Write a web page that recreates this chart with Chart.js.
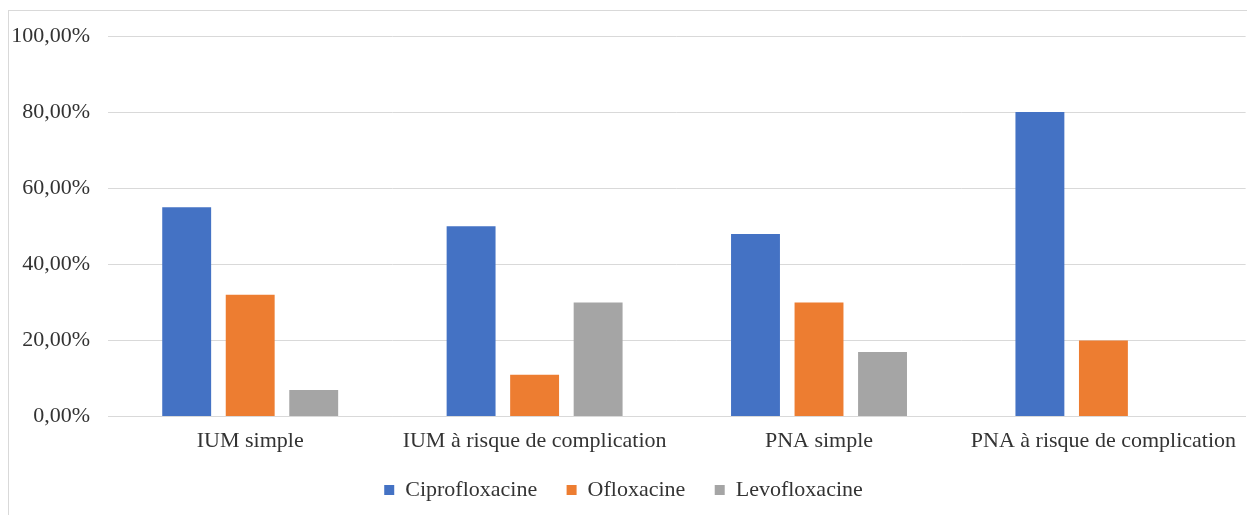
<!DOCTYPE html>
<html>
<head>
<meta charset="utf-8">
<script src="https://cdn.jsdelivr.net/npm/chart.js@4"></script>
<style>
  html, body { margin: 0; padding: 0; background: #fff; }
  #wrap { width: 1247px; height: 515px; position: relative; }
</style>
</head>
<body>
<div id="wrap"><canvas id="chart" width="1247" height="515"></canvas></div>
<script>
const categories = ['IUM simple', 'IUM à risque de complication', 'PNA simple', 'PNA à risque de complication'];
const seriesNames = ['Ciprofloxacine', 'Ofloxacine', 'Levofloxacine'];
const cipro = [55, 50, 48, 80];
const oflox = [32, 11, 30, 20];
const levo = [7, 30, 17, 0];
const yTicks = [0, 20, 40, 60, 80, 100];

const colors = ['#4472C4', '#ED7D31', '#A5A5A5'];
const serif = '"Liberation Serif", "Times New Roman", serif';

// light frame round the picture
const framePlugin = {
  id: 'frame',
  beforeDraw(chart) {
    const ctx = chart.ctx;
    ctx.save();
    ctx.fillStyle = '#fff';
    ctx.fillRect(0, 0, chart.width, chart.height);
    ctx.strokeStyle = '#d9d9d9';
    ctx.lineWidth = 1;
    ctx.strokeRect(8.5, 10.5, chart.width, chart.height);
    ctx.restore();
  }
};

const ctx = document.getElementById('chart');
new Chart(ctx, {
  type: 'bar',
  data: {
    labels: categories,
    datasets: [cipro, oflox, levo].map((vals, i) => ({
      label: seriesNames[i],
      data: vals,
      backgroundColor: colors[i],
      borderWidth: 0,
      categoryPercentage: 0.67,
      barPercentage: 0.77
    }))
  },
  options: {
    responsive: false,
    animation: false,
    layout: { padding: { top: 36, right: 0, bottom: 4, left: 0 } },
    plugins: {
      tooltip: { enabled: false },
      legend: {
        position: 'bottom',
        labels: {
          boxWidth: 10,
          boxHeight: 10,
          padding: 14,
          color: '#333',
          font: { family: serif, size: 22 },
          // wider gap between items without extra height
          generateLabels(chart) {
            const items = Chart.defaults.plugins.legend.labels.generateLabels(chart);
            items.forEach((it, i) => {
              if (i < items.length - 1) it.text += '\u2002\u2009';
            });
            return items;
          }
        }
      }
    },
    scales: {
      x: {
        grid: { display: false, drawTicks: false },
        border: { display: true, color: '#d9d9d9' },
        ticks: {
          padding: 11,
          color: '#333',
          font: { family: serif, size: 22 },
          maxRotation: 0
        }
      },
      y: {
        min: 0,
        max: 100,
        afterFit(scale) { scale.width = 108; },
        afterBuildTicks(scale) { scale.ticks = yTicks.map(v => ({ value: v })); },
        grid: { color: '#d9d9d9', drawTicks: false },
        border: { display: false },
        ticks: {
          padding: 18,
          color: '#333',
          font: { family: serif, size: 22 },
          callback: v => v.toFixed(2).replace('.', ',') + '%'
        }
      }
    }
  },
  plugins: [framePlugin]
});
</script>
</body>
</html>
